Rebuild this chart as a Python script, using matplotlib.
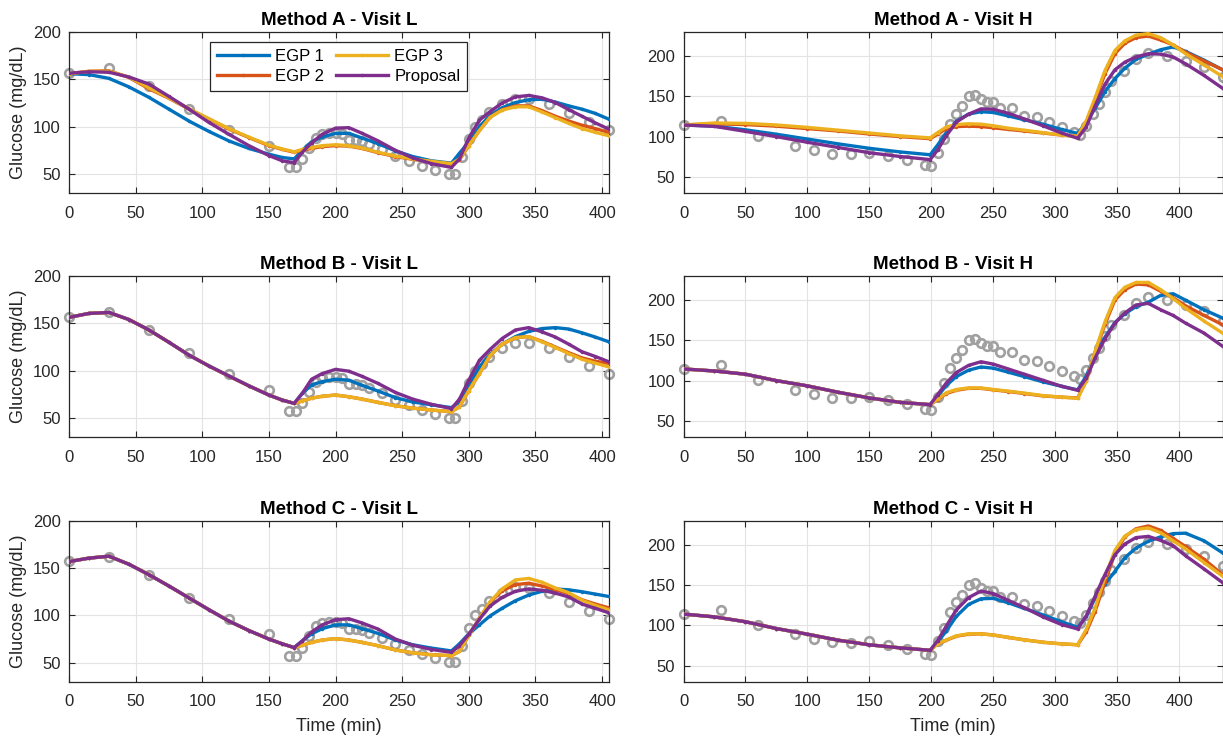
import matplotlib
matplotlib.use("Agg")
import matplotlib.pyplot as plt

plt.rcParams['font.family'] = ['Liberation Sans', 'DejaVu Sans']

# time grids (min)
t_L = [0, 15, 30, 45, 60, 75, 90, 105, 120, 135, 150, 160, 169, 175, 182, 190, 200, 210, 220, 232,
       245, 258, 272, 287, 293, 300, 308, 316, 325, 335, 345, 355, 365, 375, 385, 395, 405]
t_H = [0, 25, 50, 75, 100, 125, 150, 175, 199, 205, 212, 220, 230, 240, 250, 262, 275, 290, 305, 318,
       325, 332, 340, 348, 356, 365, 375, 385, 395, 405, 420, 435]

# measured glucose (grey circles)
obs_t_L = [0, 30, 60, 90, 120, 150, 165, 170, 175, 180, 185, 190, 195, 200, 205, 210, 215, 220, 225, 235,
           245, 255, 265, 275, 285, 290, 295, 300, 305, 310, 315, 325, 335, 345, 360, 375, 390, 405]
obs_L = [157, 162, 143, 118.5, 96.5, 80, 57.5, 57, 66, 78, 88.5, 92, 93.5, 93.5, 92.5, 86, 86, 85, 81.5, 76,
         69.5, 64, 59, 54.5, 50.5, 50.5, 68, 86.5, 100, 107, 115, 124, 129.5, 129, 124, 114.5, 104.5, 96]
obs_t_H = [0, 30, 60, 90, 105, 120, 135, 150, 165, 180, 195, 200, 205, 210, 215, 220, 225, 230, 235, 240,
           245, 250, 255, 265, 275, 285, 295, 305, 315, 320, 325, 330, 335, 340, 345, 355, 365, 375, 390, 405,
           420, 435]
obs_H = [114.5, 119, 101, 89, 83, 79, 78, 80, 76, 71, 64.5, 63, 80, 97, 116, 128.5, 138, 150, 152, 147,
         143, 143, 135, 135, 126, 124, 118, 111.6, 105.6, 102.6, 113, 128, 141, 155, 169, 182, 196, 204, 200.5, 194.5,
         186, 174]

# Method A - Visit L
A_L_egp1 = [156, 155, 151, 142, 131, 118.5, 106, 95, 85, 77, 71, 67.5, 66, 75, 84, 89, 93, 93, 88, 82,
            74.5, 68.5, 64, 61.5, 72, 84, 100, 112, 120, 125.5, 128.5, 129, 126, 122, 118.5, 114, 108]
A_L_egp2 = [156, 158.5, 159, 152, 140, 130, 118.6, 108, 97.5, 88.5, 80, 76, 73, 75, 77, 79, 80, 79.5, 77, 72.5,
            68.5, 65.5, 63, 60, 65, 80, 96, 110, 118, 122, 122, 117, 111, 106, 101.5, 98, 94]
A_L_egp3 = [156, 158.5, 158.5, 152.5, 141, 130.5, 119, 108.5, 98, 89, 80.5, 76.5, 73.5, 76, 78, 80, 81, 80, 77.5, 73,
            69, 66, 63.5, 61, 66, 80, 96, 110, 117.5, 121, 121, 115.5, 109.5, 103.5, 98, 94, 90.5]
A_L_prop = [156.5, 158, 157.5, 152.5, 145, 132, 118.6, 104.5, 92, 80, 69.5, 64, 62, 73, 83, 92, 98.5, 99, 93, 85,
            75, 67, 61, 57, 66, 88, 107, 116, 125, 131.5, 133, 130.5, 125.5, 118, 111, 104, 97.5]

# Method B - Visit L
B_L_egp1 = [156.3, 160.5, 161.5, 154, 143, 130, 116.5, 105, 94.4, 84, 74.3, 69, 65.5,
            76, 85, 88.5, 91, 90, 84.5, 78.5, 71.5, 67, 64, 61, 67, 85, 104, 117, 128, 136, 141.5, 144.5,
            145.5, 144, 140, 135.5, 130.6]
B_L_egp2 = [156.3, 160.5, 161.5, 154, 143, 130, 116.5, 105, 94.4, 84, 74.3, 69, 65.5,
            68, 71, 73, 74.3, 72.5, 70, 66.5, 63, 60.5, 58.5, 56.7, 62, 79, 97, 116, 128, 135, 136, 131,
            125, 119, 113.5, 110, 107.7]
B_L_egp3 = [156.3, 160.5, 161.5, 154, 143, 130, 116.5, 105, 94.4, 84, 74.3, 69, 65.5,
            68, 71, 73, 74.3, 72.5, 70, 66.5, 63, 60.5, 58.5, 56.7, 62, 79, 97, 116, 128, 135, 136, 130.5,
            124.5, 118, 112, 108, 104]
B_L_prop = [156.3, 160.5, 161.5, 154, 143, 130, 116.5, 105, 94.4, 84, 74.3, 69, 65.5,
            76, 91, 97, 101.4, 99.5, 94, 86.5, 77, 70, 64.5, 60, 70, 90, 111, 122.5, 134, 143, 145.5, 141,
            135.5, 128, 120, 115, 109.5]

# Method C - Visit L
C_L_egp1 = [156.8, 160.5, 162.5, 154, 143, 131, 118.5, 106, 94, 84, 75, 70, 66,
            73, 80.5, 86, 90, 90, 86, 81, 74, 69, 65.5, 62.5, 70, 80.5, 90, 99.5, 107.5, 115.5, 121.5, 125.5,
            127.9, 127, 125, 122.5, 120]
C_L_egp2 = [156.8, 160.5, 162.5, 154, 143, 131, 118.5, 106, 94, 84, 75, 70, 66,
            68.5, 71.5, 74, 75.5, 74, 71.5, 68, 63.5, 60.5, 58.5, 57.5, 62, 79, 97, 114, 126, 132.5, 134, 131,
            127, 123, 116.5, 112, 108]
C_L_egp3 = [156.8, 160.5, 162.5, 154, 143, 131, 118.5, 106, 94, 84, 75, 70, 66,
            68.5, 71.5, 74, 75.5, 74, 71.5, 68, 63.5, 60.5, 58.5, 57.5, 62, 79, 97, 114.5, 128, 137.5, 139, 135,
            129, 124, 116, 110.5, 106]
C_L_prop = [156.8, 160.5, 162.5, 154, 143, 131, 118.5, 106, 94, 84, 75, 70, 66,
            73, 82.5, 90, 95.5, 96.5, 92, 85.5, 75, 68.5, 64, 61, 68, 80, 96, 110, 119, 125.5, 128, 126.5,
            123.5, 119.5, 112, 107.5, 102.8]

# Method A - Visit H
A_H_egp1 = [114.5, 113, 108.5, 103, 97, 91, 85.5, 81, 77.5, 89.6, 105, 119, 128, 131, 130, 125.7, 121, 115.5, 109, 104,
            118, 135, 156, 172, 185, 196, 202.5, 208, 211.5, 206, 195, 183]
A_H_egp2 = [114.5, 116, 115, 113, 110, 107, 103.3, 100, 97.5, 103, 110, 112.5, 113, 112.5, 111, 109, 107, 104.5, 102, 100.5,
            118, 145, 178, 203, 216, 223, 225, 220, 214, 205, 194, 183]
A_H_egp3 = [114.5, 117, 116.5, 114.5, 111.5, 108, 104.5, 101, 98.5, 105, 112, 115, 116, 115.5, 113.5, 110.5, 108, 105, 102, 100.5,
            120, 148, 182, 207, 219, 226, 228, 223, 214, 203, 189, 174.6]
A_H_prop = [114.5, 112.8, 106.5, 100, 93, 86.5, 80, 75.3, 71.5, 83.4, 101, 118, 128, 134.5, 134, 129, 122, 113.5, 104.5, 98,
            112.4, 138, 165, 183, 192.5, 199, 203, 202.5, 199, 190.5, 176, 160]

# Method B - Visit H
B_H_egp1 = [114.5, 112, 108, 100, 93.5, 85.5, 78.5, 73, 70.2,
            80.6, 94, 105, 113, 117, 115.5, 110.5, 105, 98.5, 93, 88.5, 106, 132, 154, 172, 183, 192, 197.5,
            206, 208, 200, 188, 177.7]
B_H_egp2 = [114.5, 112, 108, 100, 93.5, 85.5, 78.5, 73, 70.2,
            76.4, 84, 88, 90.5, 90.5, 88.5, 86.5, 84, 81, 79.5, 78.5, 100, 135, 170, 200, 213, 220, 219,
            211, 203, 193, 181, 169.4]
B_H_egp3 = [114.5, 112, 108, 100, 93.5, 85.5, 78.5, 73, 70.2,
            77, 85, 89, 91, 91, 89, 87, 84.5, 81.5, 79.5, 78, 100, 136, 173, 203, 216, 222, 222,
            213, 202, 190, 174, 159]
B_H_prop = [114.5, 112, 108, 100, 93.5, 85.5, 78.5, 73, 70.2,
            82.6, 97, 110, 119, 123.5, 120.5, 114.5, 108, 100.5, 93, 88, 103.3, 128, 152, 171.5, 184, 194, 196,
            188, 181, 171.5, 159, 142.6]

# Method C - Visit H
C_H_egp1 = [114, 110.5, 104.5, 96, 89, 81.5, 75.8, 72, 69,
            79, 93, 111, 126, 133, 133.5, 128, 121, 113, 104.5, 97.5, 111, 134, 151, 167, 184, 196, 204.5,
            210, 214, 214.5, 205, 190]
C_H_egp2 = [114, 110.5, 104.5, 96, 89, 81.5, 75.8, 72, 69,
            77, 81.5, 86.5, 89, 89.5, 88, 85, 82, 79, 77, 75.8, 92, 117, 154, 189, 210, 220, 223.5,
            218, 208, 198, 182, 163]
C_H_egp3 = [114, 110.5, 104.5, 96, 89, 81.5, 75.8, 72, 69,
            77, 82, 87, 89.5, 89.5, 88, 85, 82, 79, 77, 76, 95, 121, 160, 193, 211, 219, 221,
            215, 205, 195, 178, 161]
C_H_prop = [114, 110.5, 104.5, 96, 89, 81.5, 75.8, 72, 69,
            81, 99, 119, 134.5, 142.6, 139.5, 131, 122, 110.5, 101, 95.5, 112, 136, 163, 187.7, 201, 209, 210.5,
            205.5, 199, 186.5, 170, 153]

labels = ['EGP 1', 'EGP 2', 'EGP 3', 'Proposal']
colors = ['#0072BD', '#D95319', '#EDB120', '#7E2F8E']
ink = '#262626'


def draw_panel(ax, t, curves, obs_t, obs_v, title, xmax, ymax):
    ax.plot(obs_t, obs_v, 'o', mfc='none', mec='#A0A0A0', ms=6.2, mew=1.9,
            clip_on=False, zorder=2)
    lines = []
    for y, c, lab in zip(curves, colors, labels):
        ln, = ax.plot(t, y, '.-', color=c, lw=2.4, ms=3, label=lab, zorder=3)
        lines.append(ln)
    ax.set_xlim(0, xmax)
    ax.set_ylim(30, ymax)
    ax.set_xticks(range(0, 401, 50))
    ax.set_yticks([50, 100, 150, 200])
    ax.grid(True, color='#E3E3E3', lw=0.8, zorder=0)
    ax.set_axisbelow(True)
    ax.tick_params(direction='in', top=True, right=True, length=4, width=0.8,
                   labelsize=12, colors=ink)
    ax.tick_params(axis='x', pad=9)
    ax.tick_params(axis='y', pad=6)
    for s in ax.spines.values():
        s.set_color(ink)
        s.set_linewidth(0.9)
    ax.set_title(title, fontsize=13.5, fontweight='bold', color='black', pad=5)
    return lines


fig = plt.figure(figsize=(12.23, 7.40), dpi=100)

W, H = 1223, 740
left_x, right_x = 69, 683.5
widths = (539.7, 539.2)
tops = [32, 276, 520.7]
ph = 161

panels = [
    ('Method A - Visit L', [A_L_egp1, A_L_egp2, A_L_egp3, A_L_prop], 'Method A - Visit H', [A_H_egp1, A_H_egp2, A_H_egp3, A_H_prop]),
    ('Method B - Visit L', [B_L_egp1, B_L_egp2, B_L_egp3, B_L_prop], 'Method B - Visit H', [B_H_egp1, B_H_egp2, B_H_egp3, B_H_prop]),
    ('Method C - Visit L', [C_L_egp1, C_L_egp2, C_L_egp3, C_L_prop], 'Method C - Visit H', [C_H_egp1, C_H_egp2, C_H_egp3, C_H_prop]),
]

for i, (tl, cl, th, ch) in enumerate(panels):
    bottom = 1 - (tops[i] + ph) / H
    axl = fig.add_axes([left_x / W, bottom, widths[0] / W, ph / H])
    axr = fig.add_axes([right_x / W, bottom, widths[1] / W, ph / H])
    lines = draw_panel(axl, t_L, cl, obs_t_L, obs_L, tl, 405, 200)
    draw_panel(axr, t_H, ch, obs_t_H, obs_H, th, 435, 230)
    axl.set_ylabel('Glucose (mg/dL)', fontsize=13, color=ink)
    if i == 2:
        axl.set_xlabel('Time (min)', fontsize=13, color=ink, labelpad=6)
        axr.set_xlabel('Time (min)', fontsize=13, color=ink, labelpad=6)
    if i == 0:
        leg = axl.legend(handles=lines, ncol=2, loc='upper center', bbox_to_anchor=(0.5, 0.935),
                         borderaxespad=0, fontsize=12, frameon=True, fancybox=False, framealpha=1,
                         edgecolor=ink, handlelength=3.1, handletextpad=0.4,
                         columnspacing=0.7, borderpad=0.4, labelspacing=0.3)
        leg.get_frame().set_linewidth(0.9)

fig.savefig('out.png', dpi=100)
